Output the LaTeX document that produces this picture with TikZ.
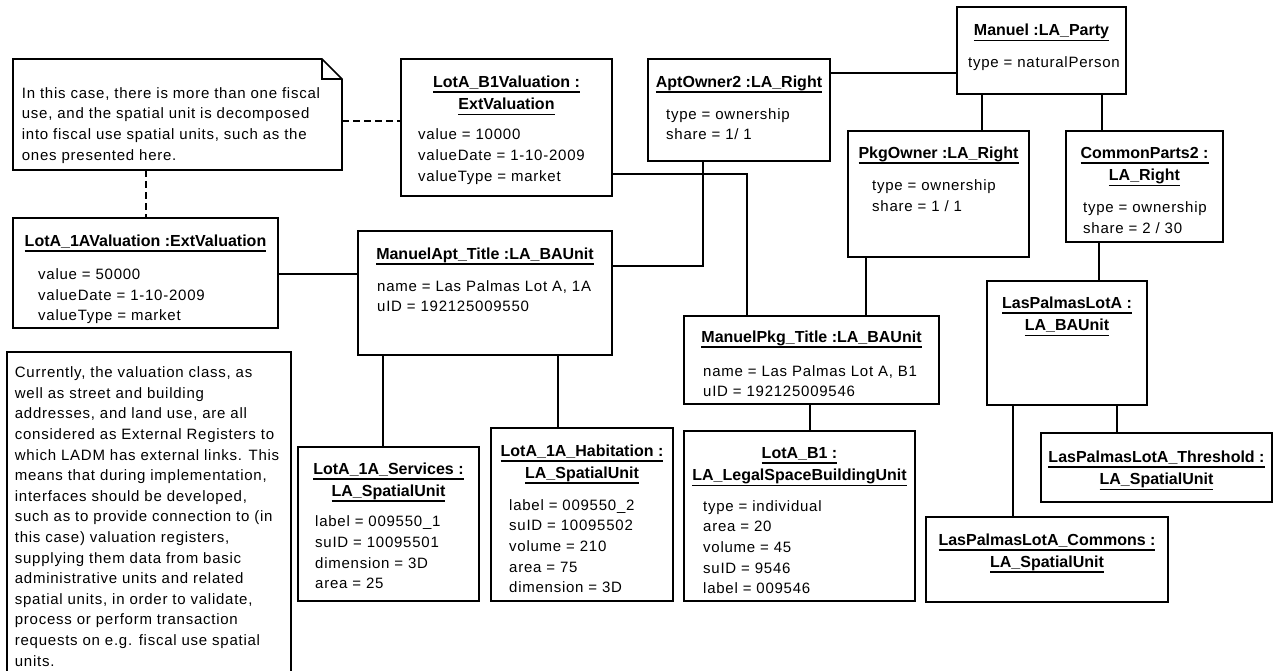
\documentclass[tikz,border=0pt]{standalone}
\usepackage{fontspec}
\setmainfont{Liberation Sans}
\newfontfamily\attrfont{Liberation Sans}[LetterSpace=5]
\newcommand\ul[1]{\setbox0=\hbox{#1}\rlap{\rule[-5.5pt]{\wd0}{1.8pt}}\box0}
\newcommand\ttl[1]{\begin{tabular}[t]{@{}c@{}}#1\end{tabular}}
\newcommand\atr[1]{\begin{tabular}[t]{@{}l@{}}#1\end{tabular}}
\tikzset{
  objbox/.style={draw, line width=1.6pt, inner sep=0pt, outer sep=0pt, anchor=north west},
  notebox/.style={inner sep=0pt, outer sep=0pt, anchor=north west},
  titletext/.style={font=\fontsize{16}{22.5}\selectfont\bfseries, inner sep=0pt, anchor=base},
  attrtext/.style={font=\attrfont\fontsize{15}{20.7}\selectfont, inner sep=0pt, anchor=base west},
  notetext/.style={font=\attrfont\fontsize{15}{20.6}\selectfont, inner sep=0pt, anchor=base west},
  link/.style={line width=1.6pt},
  notelink/.style={line width=1.6pt, dash pattern=on 7pt off 4pt},
}
\begin{document}
\begin{tikzpicture}[x=1pt,y=-1pt]
\fill[white] (0,0) rectangle (1281,671);
\useasboundingbox (0,0) rectangle (1281,671);

% ---------- boxes ----------
\node[notebox, minimum width=329, minimum height=111] (note1) at (13,59) {};
\draw[line width=1.6pt] (note1.north west) -- ([xshift=-20pt]note1.north east)
  -- ([yshift=-20pt]note1.north east) -- (note1.south east) -- (note1.south west) -- cycle;
\draw[line width=1.6pt] ([xshift=-20pt]note1.north east) -- ([xshift=-20pt,yshift=-20pt]note1.north east)
  -- ([yshift=-20pt]note1.north east);

\node[objbox, minimum width=211, minimum height=137] (b1val) at (401,59) {};
\node[objbox, minimum width=182, minimum height=102] (apt) at (648,59) {};
\node[objbox, minimum width=169, minimum height=87] (manuel) at (957,7) {};
\node[objbox, minimum width=181, minimum height=126] (pkgown) at (848,131) {};
\node[objbox, minimum width=157, minimum height=111] (common2) at (1066,131) {};
\node[objbox, minimum width=265, minimum height=110] (val1a) at (13,218) {};
\node[objbox, minimum width=254, minimum height=124] (mapt) at (358,231) {};
\node[objbox, minimum width=255, minimum height=88] (mpkg) at (684,316) {};
\node[objbox, minimum width=160, minimum height=124] (lpla) at (987,281) {};
\node[objbox, minimum width=284, minimum height=340] (note2) at (7,352) {};
\node[objbox, minimum width=181, minimum height=154] (serv) at (298,447) {};
\node[objbox, minimum width=182, minimum height=173] (habit) at (491,428) {};
\node[objbox, minimum width=231, minimum height=170] (lotb1) at (684,431) {};
\node[objbox, minimum width=231, minimum height=69] (thresh) at (1041,433) {};
\node[objbox, minimum width=242, minimum height=85] (commons) at (926,517) {};

% ---------- connectors ----------
\draw[notelink] (note1.east |- 0,121) -- (b1val.west |- 0,121);
\draw[notelink] (note1.south -| 146,0) -- (val1a.north -| 146,0);
\draw[link] (val1a.east |- 0,274) -- (mapt.west |- 0,274);
\draw[link] (b1val.east |- 0,174) -| (mpkg.north -| 747,0);
\draw[link] (apt.south -| 703,0) |- (mapt.east |- 0,266);
\draw[link] (apt.east |- 0,73) -- (manuel.west |- 0,73);
\draw[link] (manuel.south -| 982,0) -- (pkgown.north -| 982,0);
\draw[link] (manuel.south -| 1102,0) -- (common2.north -| 1102,0);
\draw[link] (pkgown.south -| 866,0) -- (mpkg.north -| 866,0);
\draw[link] (common2.south -| 1099,0) -- (lpla.north -| 1099,0);
\draw[link] (mapt.south -| 383,0) -- (serv.north -| 383,0);
\draw[link] (mapt.south -| 558,0) -- (habit.north -| 558,0);
\draw[link] (mpkg.south -| 810,0) -- (lotb1.north -| 810,0);
\draw[link] (lpla.south -| 1013,0) -- (commons.north -| 1013,0);
\draw[link] (lpla.south -| 1117,0) -- (thresh.north -| 1117,0);

% ---------- texts ----------
\node[notetext] (note1-t) at (21.7,98.3) {\atr{In this case, there is more than one fiscal\\
use, and the spatial unit is decomposed\\
into fiscal use spatial units, such as the\\
ones presented here.}};

\node[notetext] (note2-t) at (14.7,377.7) {\atr{Currently, the valuation class, as\\
well as street and building\\
addresses, and land use, are all\\
considered as External Registers to\\
which LADM has external links. This\\
means that during implementation,\\
interfaces should be developed,\\
such as to provide connection to (in\\
this case) valuation registers,\\
supplying them data from basic\\
administrative units and related\\
spatial units, in order to validate,\\
process or perform transaction\\
requests on e.g. fiscal use spatial\\
units.}};

\node[titletext] (val1a-t) at (145.5,246.5) {\ttl{\ul{LotA\_1AValuation :ExtValuation}}};
\node[attrtext] (val1a-a) at (38,279.5) {\atr{value = 50000\\valueDate = 1-10-2009\\valueType = market}};

\node[titletext] (b1val-t) at (506.5,87.5) {\ttl{\ul{LotA\_B1Valuation :}\\\ul{ExtValuation}}};
\node[attrtext] (b1val-a) at (418,140) {\atr{value = 10000\\valueDate = 1-10-2009\\valueType = market}};

\node[titletext] (apt-t) at (739,87.3) {\ttl{\ul{AptOwner2 :LA\_Right}}};
\node[attrtext] (apt-a) at (666,119.3) {\atr{type = ownership\\share = 1/ 1}};

\node[titletext] (manuel-t) at (1041.5,36) {\ttl{\ul{Manuel :LA\_Party}}};
\node[attrtext] (manuel-a) at (968,67.7) {\atr{type = naturalPerson}};

\node[titletext] (pkgown-t) at (938.5,158.3) {\ttl{\ul{PkgOwner :LA\_Right}}};
\node[attrtext] (pkgown-a) at (872,190.7) {\atr{type = ownership\\share = 1 / 1}};

\node[titletext] (common2-t) at (1144.5,158.3) {\ttl{\ul{CommonParts2 :}\\\ul{LA\_Right}}};
\node[attrtext] (common2-a) at (1083,212.3) {\atr{type = ownership\\share = 2 / 30}};

\node[titletext] (mapt-t) at (485,259) {\ttl{\ul{ManuelApt\_Title :LA\_BAUnit}}};
\node[attrtext] (mapt-a) at (377,291) {\atr{name = Las Palmas Lot A, 1A\\uID = 192125009550}};

\node[titletext] (mpkg-t) at (811.5,342.7) {\ttl{\ul{ManuelPkg\_Title :LA\_BAUnit}}};
\node[attrtext] (mpkg-a) at (703,376) {\atr{name = Las Palmas Lot A, B1\\uID = 192125009546}};

\node[titletext] (lpla-t) at (1067,308.3) {\ttl{\ul{LasPalmasLotA :}\\\ul{LA\_BAUnit}}};

\node[titletext] (serv-t) at (388.5,474) {\ttl{\ul{LotA\_1A\_Services :}\\\ul{LA\_SpatialUnit}}};
\node[attrtext] (serv-a) at (315,526.7) {\atr{label = 009550\_1\\suID = 10095501\\dimension = 3D\\area = 25}};

\node[titletext] (habit-t) at (582,456) {\ttl{\ul{LotA\_1A\_Habitation :}\\\ul{LA\_SpatialUnit}}};
\node[attrtext] (habit-a) at (509,510) {\atr{label = 009550\_2\\suID = 10095502\\volume = 210\\area = 75\\dimension = 3D}};

\node[titletext] (lotb1-t) at (799.5,458.3) {\ttl{\ul{LotA\_B1 :}\\\ul{LA\_LegalSpaceBuildingUnit}}};
\node[attrtext] (lotb1-a) at (703,511) {\atr{type = individual\\area = 20\\volume = 45\\suID = 9546\\label = 009546}};

\node[titletext] (thresh-t) at (1156.5,462.3) {\ttl{\ul{LasPalmasLotA\_Threshold :}\\\ul{LA\_SpatialUnit}}};

\node[titletext] (commons-t) at (1047,545) {\ttl{\ul{LasPalmasLotA\_Commons :}\\\ul{LA\_SpatialUnit}}};
\end{tikzpicture}
\end{document}
